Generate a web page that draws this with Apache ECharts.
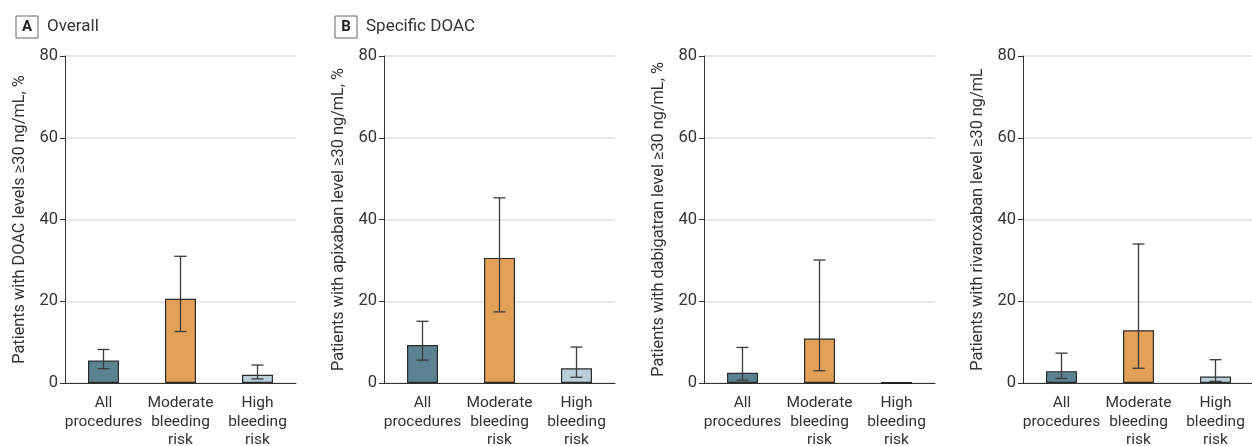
<!DOCTYPE html>
<html>
<head>
<meta charset="utf-8">
<script src="https://cdn.jsdelivr.net/npm/echarts@6/dist/echarts.min.js"></script>
<style>
  html, body { margin: 0; padding: 0; background: #fff; }
  #main { width: 1252px; height: 446px; }
</style>
</head>
<body>
<div id="main"></div>
<script>
// categories shared by every panel
var categories = ['All\nprocedures', 'Moderate\nbleeding\nrisk', 'High\nbleeding\nrisk'];
var yTicks = [0, 20, 40, 60, 80];

// panel A - overall
var overallVal = [5.5, 20.6, 2.0];
var overallLow = [3.5, 12.6, 1.0];
var overallHigh = [8.2, 31.0, 4.4];

// panel B - apixaban
var apixabanVal = [9.3, 30.6, 3.6];
var apixabanLow = [5.6, 17.4, 1.4];
var apixabanHigh = [15.1, 45.3, 8.8];

// panel B - dabigatran
var dabigatranVal = [2.5, 10.9, 0];
var dabigatranLow = [0.7, 3.0, 0];
var dabigatranHigh = [8.7, 30.1, 0];

// panel B - rivaroxaban
var rivaroxabanVal = [2.9, 12.9, 1.6];
var rivaroxabanLow = [1.1, 3.6, 0.4];
var rivaroxabanHigh = [7.3, 34.0, 5.7];

var axisNames = [
    'Patients with DOAC levels \u226530 ng/mL, %',
    'Patients with apixaban level \u226530 ng/mL, %',
    'Patients with dabigatran level \u226530 ng/mL, %',
    'Patients with rivaroxaban level \u226530 ng/mL'
];

var barColors = ['#5b8291', '#e3a157', '#b9d0da'];
var FONT = 'Roboto';

var panels = [
    { val: overallVal, low: overallLow, high: overallHigh, left: 65 },
    { val: apixabanVal, low: apixabanLow, high: apixabanHigh, left: 384 },
    { val: dabigatranVal, low: dabigatranLow, high: dabigatranHigh, left: 704 },
    { val: rivaroxabanVal, low: rivaroxabanLow, high: rivaroxabanHigh, left: 1023 }
];

var grids = [], xAxes = [], yAxes = [], series = [];

panels.forEach(function (p, i) {
    grids.push({ left: p.left, top: 56, width: 231, height: 327, outerBoundsMode: 'none', containLabel: false });

    xAxes.push({
        type: 'category',
        gridIndex: i,
        data: categories,
        axisLine: { lineStyle: { color: '#333', width: 1 } },
        axisTick: { show: false },
        axisLabel: {
            color: '#333', fontFamily: FONT, fontSize: 15.5, lineHeight: 18.5,
            margin: 11, interval: 0
        }
    });

    yAxes.push({
        type: 'value',
        gridIndex: i,
        min: yTicks[0],
        max: yTicks[yTicks.length - 1],
        interval: 20,
        name: axisNames[i],
        nameLocation: 'middle',
        nameGap: 37,
        nameTextStyle: { color: '#333', fontFamily: FONT, fontSize: 16.3 },
        axisLine: { show: true, lineStyle: { color: '#333', width: 1 } },
        axisTick: { show: true, length: 5, lineStyle: { color: '#333' } },
        axisLabel: { color: '#333', fontFamily: FONT, fontSize: 16.5, margin: 7 },
        splitLine: { lineStyle: { color: '#dedede', width: 1.5 } }
    });

    series.push({
        type: 'bar',
        xAxisIndex: i,
        yAxisIndex: i,
        barWidth: 31,
        data: p.val.map(function (v, k) {
            return {
                value: v,
                itemStyle: { color: barColors[k], borderColor: '#2b2b2b', borderWidth: 1.2 }
            };
        }),
        silent: true
    });

    // error bars (a zero-height bar shows as a dark stub on the axis)
    series.push({
        type: 'custom',
        xAxisIndex: i,
        yAxisIndex: i,
        z: 5,
        silent: true,
        data: p.val.map(function (v, k) { return [k, p.low[k], p.high[k], v]; }),
        renderItem: function (params, api) {
            var lo = api.value(1), hi = api.value(2);
            var a = api.coord([api.value(0), hi]);
            var b = api.coord([api.value(0), lo]);
            var style = { stroke: '#3a3a3a', lineWidth: 1.3 };
            if (lo === hi) {
                if (api.value(3) !== 0) return;
                return {
                    type: 'line',
                    shape: { x1: b[0] - 15.5, y1: b[1], x2: b[0] + 15.5, y2: b[1] },
                    style: { stroke: '#222', lineWidth: 2 }
                };
            }
            var w = 6;
            return {
                type: 'group',
                children: [
                    { type: 'line', shape: { x1: a[0], y1: a[1], x2: b[0], y2: b[1] }, style: style },
                    { type: 'line', shape: { x1: a[0] - w, y1: a[1], x2: a[0] + w, y2: a[1] }, style: style },
                    { type: 'line', shape: { x1: b[0] - w, y1: b[1], x2: b[0] + w, y2: b[1] }, style: style }
                ]
            };
        }
    });
});

function panelTitle(left, letter, label) {
    return {
        left: left, top: 11,
        text: '{box|' + letter + '}{t|' + label + '}',
        textStyle: {
            fontWeight: 'normal',
            rich: {
                box: { fontFamily: FONT, fontSize: 15, fontWeight: 'bold', color: '#222',
                       borderColor: '#666', borderWidth: 1, padding: [4, 6, 3, 6],
                       width: 10, align: 'center' },
                t: { fontFamily: FONT, fontSize: 17, fontWeight: 'normal', color: '#333',
                     padding: [0, 0, 0, 9] }
            }
        }
    };
}

var chart = echarts.init(document.getElementById('main'));
chart.setOption({
    backgroundColor: '#fff',
    animation: false,
    title: [
        panelTitle(11, 'A', 'Overall'),
        panelTitle(330, 'B', 'Specific DOAC')
    ],
    grid: grids,
    xAxis: xAxes,
    yAxis: yAxes,
    series: series
});
</script>
</body>
</html>
